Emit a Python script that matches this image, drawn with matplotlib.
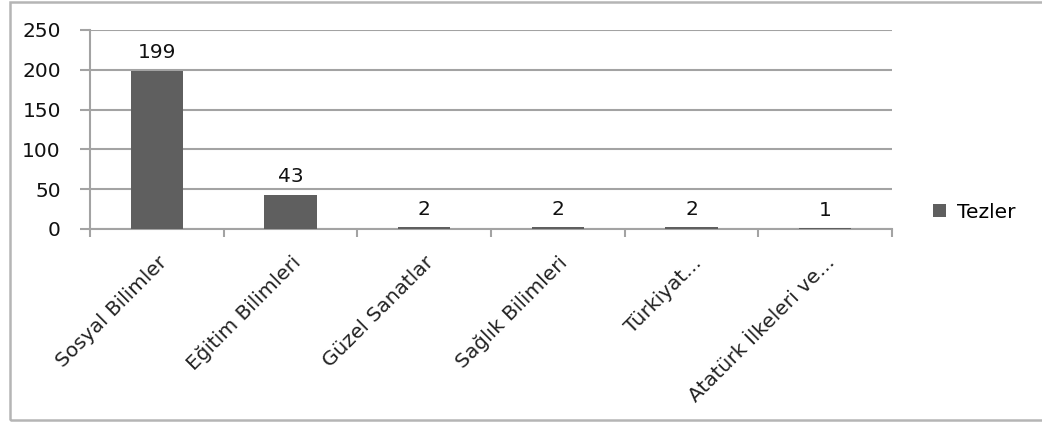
import matplotlib.pyplot as plt
from matplotlib.patches import Rectangle
import matplotlib.transforms as mtransforms
import numpy as np

# data
categories = ["Sosyal Bilimler", "Eğitim Bilimleri", "Güzel Sanatlar",
              "Sağlık Bilimleri", "Türkiyat...", "Atatürk İlkeleri ve..."]
tezler = [199, 43, 2, 2, 2, 1]
y_ticks = [0, 50, 100, 150, 200, 250]

plt.rcParams["font.family"] = ["DejaVu Sans"]
FS = 14.5
GRID = "#a3a3a3"

fig = plt.figure(figsize=(10.42, 4.26), dpi=100)
fig.patch.set_facecolor("white")

# outer chart border (right side runs off the picture)
fig.patches.append(Rectangle((10 / 1042, 1 - 420 / 426), 1040 / 1042, 418 / 426,
                             transform=fig.transFigure, fill=False,
                             edgecolor="#b5b5b5", linewidth=1.8))

ax = fig.add_axes([90 / 1042, 1 - 229 / 426, 802 / 1042, 199 / 426])
x = np.arange(len(categories))
bars = ax.bar(x, tezler, width=0.39, color="#5f5f5f", label="Tezler", zorder=3)

ax.set_xlim(-0.5, len(categories) - 0.5)
ax.set_ylim(0, 250)
ax.set_yticks(y_ticks)
ax.set_yticklabels([str(v) for v in y_ticks], fontsize=FS)
ax.yaxis.grid(True, color=GRID, linewidth=1.5, zorder=0)

# category boundaries carry the tick marks
ax.set_xticks(np.arange(-0.5, len(categories)), minor=False)
ax.set_xticklabels([])
ax.set_xticks(x, minor=True)
ax.set_xticklabels(categories, minor=True, rotation=45, ha="right",
                   va="center", rotation_mode="anchor", fontsize=FS,
                   color="#222222")
ax.tick_params(axis="x", which="major", length=6, color=GRID, width=1.5)
ax.tick_params(axis="x", which="minor", length=0, pad=22)
ax.tick_params(axis="y", length=7, color=GRID, width=1.5, pad=14,
               labelcolor="#111111")

# nudge rotated labels a little to the right, like excel does
shift = mtransforms.ScaledTranslation(7 / 100, 0, fig.dpi_scale_trans)
for lbl in ax.get_xticklabels(minor=True):
    lbl.set_transform(lbl.get_transform() + shift)

for s in ["top", "right"]:
    ax.spines[s].set_visible(False)
for s in ["left", "bottom"]:
    ax.spines[s].set_color(GRID)
    ax.spines[s].set_linewidth(1.5)

for xi, v in zip(x, tezler):
    ax.annotate(str(v), (xi, v), xytext=(0, 6), textcoords="offset points",
                ha="center", va="bottom", fontsize=FS, color="#111111")

fig.legend(handles=[bars], labels=["Tezler"], loc="center left",
           bbox_to_anchor=(915 / 1042, 1 - 212 / 426), frameon=False,
           fontsize=FS, handlelength=0.65, handleheight=0.65,
           handletextpad=0.55)

fig.savefig("out.png", dpi=100)
